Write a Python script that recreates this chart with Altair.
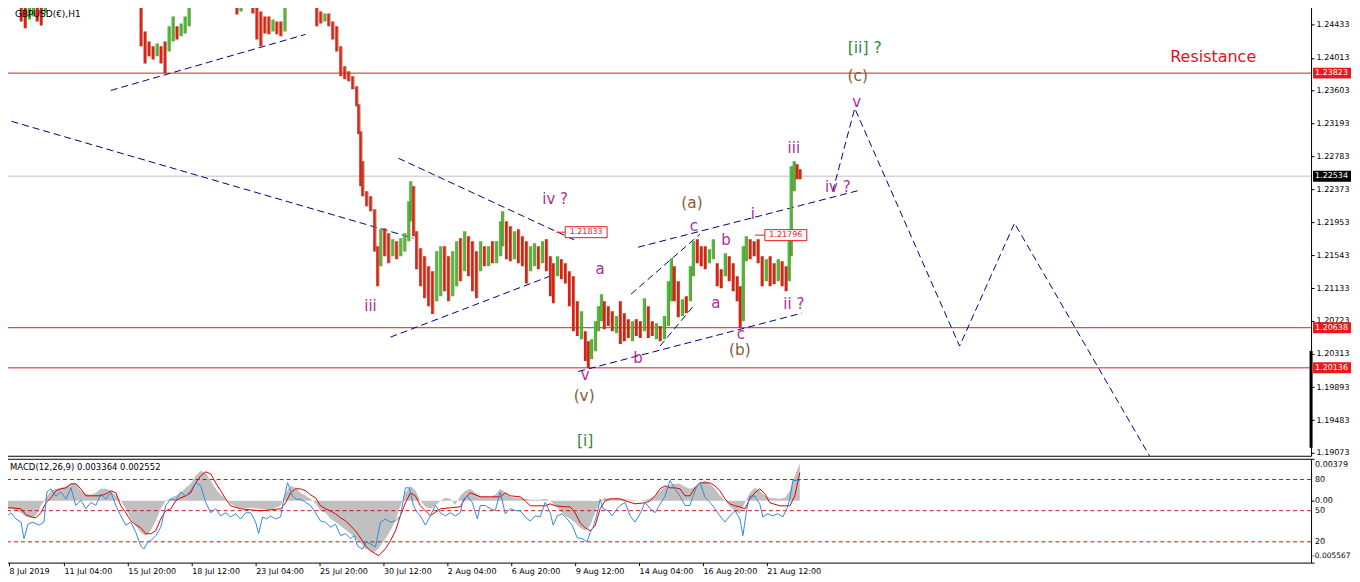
import altair as alt
import pandas as pd

FONT = "DejaVu Sans"

# ---------------- data ----------------
# hourly candles: (bar index, high, low, direction)
candles = [
    (20, 1.2472, 1.2447, "d"), (24, 1.2472, 1.24383, "d"), (28, 1.2472, 1.24495, "u"),
    (32, 1.2472, 1.24533, "u"), (36, 1.2472, 1.2447, "d"), (40, 1.2472, 1.2442, "d"),
    (44, 1.2472, 1.2457, "u"),
    (140, 1.2472, 1.24158, "d"), (144, 1.24345, 1.23945, "d"), (148, 1.2422, 1.24033, "d"),
    (152, 1.24158, 1.23995, "d"), (156, 1.24195, 1.24033, "u"), (160, 1.24158, 1.23945, "d"),
    (164, 1.2422, 1.2382, "d"), (168, 1.24408, 1.24095, "u"), (172, 1.24533, 1.2422, "u"),
    (176, 1.24408, 1.24245, "d"), (180, 1.24445, 1.24283, "u"), (184, 1.24533, 1.2432, "u"),
    (188, 1.2472, 1.24408, "u"),
    (236, 1.2472, 1.24558, "d"), (240, 1.2472, 1.24595, "u"), (252, 1.2472, 1.2457, "d"),
    (256, 1.24658, 1.24245, "d"), (260, 1.24595, 1.24158, "d"), (264, 1.24533, 1.2432, "d"),
    (268, 1.24533, 1.24308, "d"), (272, 1.24495, 1.24345, "u"), (276, 1.2447, 1.24308, "d"),
    (280, 1.2447, 1.24283, "d"), (284, 1.2472, 1.24345, "u"),
    (316, 1.2472, 1.24408, "d"), (320, 1.24595, 1.24445, "d"), (324, 1.2457, 1.2447, "u"),
    (328, 1.2457, 1.24408, "d"), (332, 1.2447, 1.24245, "d"), (336, 1.24408, 1.24095, "d"),
    (340, 1.24158, 1.23783, "d"), (344, 1.23908, 1.23745, "d"), (348, 1.23845, 1.2372, "d"),
    (352, 1.23783, 1.2362, "d"), (356, 1.23658, 1.23408, "d"), (358, 1.23433, 1.23058, "d"),
    (360, 1.23095, 1.22408, "d"), (362, 1.2272, 1.22283, "d"), (366, 1.22345, 1.22158, "d"),
    (370, 1.22283, 1.22095, "d"), (374, 1.2212, 1.2159, "d"), (377, 1.21658, 1.21158, "d"),
    (380, 1.2187, 1.21408, "u"), (384, 1.21883, 1.21533, "d"), (388, 1.2182, 1.21445, "d"),
    (392, 1.21745, 1.21533, "u"), (396, 1.2172, 1.21495, "d"), (400, 1.21758, 1.21533, "u"),
    (404, 1.2182, 1.2159, "u"), (408, 1.2222, 1.2172, "u"), (410, 1.2247, 1.2197, "u"),
    (413, 1.22408, 1.21783, "d"), (416, 1.21845, 1.2137, "d"), (420, 1.21633, 1.21158, "d"),
    (424, 1.21533, 1.21008, "d"), (428, 1.21408, 1.20908, "d"), (432, 1.21345, 1.20808, "d"),
    (436, 1.21595, 1.2097, "u"), (440, 1.21658, 1.21033, "u"), (444, 1.21658, 1.21095, "d"),
    (448, 1.21533, 1.2097, "d"), (452, 1.21595, 1.21033, "u"), (456, 1.2172, 1.21158, "u"),
    (460, 1.21758, 1.2122, "d"), (464, 1.21845, 1.21345, "u"), (468, 1.21783, 1.21283, "d"),
    (472, 1.2172, 1.21095, "d"), (476, 1.21595, 1.21008, "d"), (480, 1.2172, 1.21345, "u"),
    (484, 1.21658, 1.21408, "d"), (488, 1.21658, 1.21408, "u"), (492, 1.2172, 1.21445, "d"),
    (496, 1.2172, 1.21445, "u"), (500, 1.2197, 1.21533, "u"), (502, 1.22095, 1.21658, "u"),
    (506, 1.2197, 1.21495, "d"), (510, 1.21908, 1.2147, "d"), (514, 1.21845, 1.21495, "u"),
    (518, 1.2187, 1.21445, "d"), (522, 1.21783, 1.21408, "d"), (526, 1.2172, 1.2119, "d"),
    (530, 1.21658, 1.21345, "u"), (534, 1.21695, 1.21408, "u"), (538, 1.21658, 1.2137, "d"),
    (542, 1.2172, 1.21445, "u"), (546, 1.21745, 1.21345, "d"), (550, 1.21533, 1.21033, "d"),
    (553, 1.21445, 1.20945, "d"), (557, 1.21533, 1.21283, "u"), (561, 1.21495, 1.21245, "d"),
    (565, 1.21445, 1.2119, "d"), (569, 1.21345, 1.20908, "d"), (573, 1.21283, 1.20595, "d"),
    (577, 1.2097, 1.20533, "d"), (581, 1.20845, 1.20495, "u"), (585, 1.20595, 1.2022, "d"),
    (588, 1.2047, 1.20133, "d"), (591, 1.20495, 1.20245, "u"), (595, 1.2072, 1.20345, "u"),
    (598, 1.20908, 1.20595, "u"), (601, 1.21058, 1.2072, "u"), (604, 1.2097, 1.2062, "d"),
    (608, 1.20908, 1.20658, "d"), (612, 1.20845, 1.20595, "d"), (616, 1.20783, 1.2057, "u"),
    (620, 1.2097, 1.20433, "d"), (624, 1.2082, 1.2047, "d"), (628, 1.20745, 1.20508, "d"),
    (632, 1.2072, 1.2047, "u"), (636, 1.20745, 1.20533, "d"), (640, 1.2072, 1.20508, "d"),
    (644, 1.21008, 1.20595, "u"), (648, 1.20908, 1.20508, "d"), (652, 1.2072, 1.20533, "d"),
    (656, 1.20695, 1.20495, "u"), (660, 1.20658, 1.2047, "d"), (664, 1.20783, 1.20495, "u"),
    (668, 1.2122, 1.20658, "u"), (671, 1.21508, 1.2097, "u"), (674, 1.21408, 1.2097, "d"),
    (678, 1.2122, 1.2077, "d"), (682, 1.20995, 1.20783, "u"), (686, 1.21033, 1.2082, "d"),
    (690, 1.21408, 1.2097, "u"), (693, 1.2172, 1.21283, "u"), (697, 1.21745, 1.21445, "d"),
    (701, 1.21658, 1.21408, "d"), (705, 1.21658, 1.2137, "d"), (709, 1.2162, 1.21445, "u"),
    (713, 1.21745, 1.21495, "u"), (717, 1.21445, 1.21158, "d"), (721, 1.2137, 1.21133, "d"),
    (725, 1.2157, 1.21283, "u"), (729, 1.21533, 1.2122, "d"), (733, 1.21445, 1.21095, "d"),
    (737, 1.21283, 1.2097, "d"), (740, 1.21158, 1.20633, "d"), (743, 1.21658, 1.2072, "u"),
    (746, 1.21783, 1.2147, "u"), (750, 1.21745, 1.21495, "d"), (754, 1.2172, 1.21533, "d"),
    (758, 1.21745, 1.21445, "d"), (762, 1.21533, 1.21158, "d"), (766, 1.21495, 1.2122, "u"),
    (770, 1.21533, 1.21158, "d"), (774, 1.21445, 1.21183, "d"), (778, 1.21495, 1.2122, "u"),
    (782, 1.2147, 1.21158, "d"), (786, 1.21408, 1.21095, "d"), (789, 1.21845, 1.2122, "u"),
    (791, 1.22658, 1.21533, "u"), (794, 1.2272, 1.22345, "u"), (797, 1.22683, 1.22495, "d"),
    (800, 1.2262, 1.22495, "d"),
]

# dashed trend lines: (bar1, price1, bar2, price2)
trend_lines = [
    (110, 1.23607, 305, 1.24308),
    (0, 1.23258, 413, 1.21758),
    (398, 1.22758, 577, 1.2172),
    (390, 1.2052, 555, 1.21308),
    (578, 1.2009, 802, 1.2082),
    (638, 1.21645, 860, 1.22358),
    (631, 1.21058, 700, 1.21808),
    (660, 1.20408, 695, 1.20933),
]

# projected path
forecast_bar = [833, 855, 960, 1015, 1152]
forecast_price = [1.22345, 1.23383, 1.20408, 1.21945, 1.18995]

red_levels = [1.23823, 1.20638, 1.20136]
last_price = 1.22534

price_ticks = [1.24433, 1.24013, 1.23603, 1.23193, 1.22783, 1.22373, 1.21953,
               1.21543, 1.21133, 1.20723, 1.20313, 1.19893, 1.19483, 1.19073]

# right-scale price boxes: (price, kind)
price_boxes = [(1.23823, "r"), (1.22534, "k"), (1.20638, "r"), (1.20136, "r")]

time_tick_bars = [8, 63, 127, 191, 255, 319, 383, 447, 511, 575, 639, 703, 767]
time_tick_labels = ["8 Jul 2019", "11 Jul 04:00", "15 Jul 20:00", "18 Jul 12:00",
                    "23 Jul 04:00", "25 Jul 20:00", "30 Jul 12:00", "2 Aug 04:00",
                    "6 Aug 20:00", "9 Aug 12:00", "14 Aug 04:00", "16 Aug 20:00",
                    "21 Aug 12:00"]

# wave labels: (text, bar, price, group)
wave_labels = [
    ("iii", 370, 1.20908, "p"), ("iv ?", 555, 1.22245, "p"), ("a", 600, 1.2137, "p"),
    ("v", 585, 1.20045, "p"), ("(v)", 584, 1.19783, "b"), ("[i]", 585, 1.1922, "g"),
    ("b", 638, 1.20258, "p"), ("(a)", 692, 1.22195, "b"), ("c", 694, 1.21908, "p"),
    ("b", 726, 1.21733, "p"), ("a", 716, 1.20945, "p"), ("c", 741, 1.20558, "p"),
    ("(b)", 740, 1.20358, "b"), ("i", 753, 1.22058, "p"), ("iii", 794, 1.22883, "p"),
    ("ii ?", 794, 1.20933, "p"), ("iv ?", 838, 1.22395, "p"), ("v", 857, 1.23458, "p"),
    ("(c)", 858, 1.23783, "b"), ("[ii] ?", 865, 1.24133, "g"),
    ("Resistance", 1214, 1.2402, "r"),
]

# in-chart price tags: (leader start bar, tag centre bar, price)
chart_price_tags = [(556, 586, 1.21833), (755, 786, 1.21796)]

# MACD main (histogram) and signal: (bar, value)
macd_hist = [
    (0, -0.00063), (10, -0.00072), (20, -0.00108), (25, -0.00144), (30, -0.00153),
    (35, -0.00135), (40, -0.00045), (45, 0.00027), (50, 0.0009), (55, 0.00108),
    (60, 0.00117), (65, 0.00126), (70, 0.00153), (75, 0.00162), (80, 0.0009),
    (85, 0.00063), (90, 0.00054), (95, 0.00072), (100, 0.00108), (105, 0.00108),
    (110, 0.0009), (115, 0.00045), (120, 0.0), (125, -0.00072), (130, -0.00162),
    (135, -0.00225), (140, -0.00288), (145, -0.00315), (150, -0.0027), (155, -0.0018),
    (160, -0.00072), (165, 0.0), (170, 0.00027), (175, 0.00045), (180, 0.00072),
    (185, 0.00117), (190, 0.00153), (195, 0.00225), (200, 0.0027), (205, 0.00252),
    (210, 0.0018), (215, 0.00108), (220, 0.00054), (225, 0.00018), (230, -0.00027),
    (240, -0.00072), (250, -0.00063), (260, -0.00072), (270, -0.00081), (280, -0.00045),
    (285, 0.00072), (290, 0.00135), (295, 0.00117), (300, 0.00072), (305, 0.00045),
    (310, 0.00018), (315, -0.00027), (320, -0.0009), (325, -0.00108), (330, -0.00162),
    (340, -0.00225), (350, -0.00297), (360, -0.00378), (365, -0.00432), (370, -0.0045),
    (373, -0.00468), (378, -0.00432), (385, -0.00342), (390, -0.0027), (395, -0.0018),
    (400, -0.00045), (405, 0.00072), (410, 0.00135), (415, 0.0009), (420, 0.0),
    (425, -0.00054), (430, -0.00072), (435, -0.00045), (440, 0.0), (445, 0.00027),
    (450, 0.00018), (455, -0.00036), (460, 0.00045), (465, 0.0009), (470, 0.00108),
    (475, 0.00072), (480, 0.00045), (485, 0.00036), (490, 0.00036), (495, 0.00054),
    (500, 0.00108), (505, 0.00072), (510, 0.00036), (515, 0.00027), (520, 0.00027),
    (525, 0.00018), (530, 0.00009), (540, 0.00009), (545, 0.00018), (550, 0.0),
    (555, -0.00045), (560, -0.0009), (565, -0.00135), (570, -0.00162), (575, -0.00198),
    (580, -0.00243), (585, -0.0027), (590, -0.00225), (595, -0.00108), (600, 0.0),
    (605, 0.00027), (610, 0.00018), (620, 0.00018), (630, 0.00009), (640, 0.0),
    (650, 0.00018), (655, 0.00045), (660, 0.0009), (665, 0.00126), (670, 0.00144),
    (675, 0.00153), (680, 0.00153), (685, 0.00126), (690, 0.00108), (695, 0.00126),
    (700, 0.00162), (705, 0.0018), (710, 0.00153), (715, 0.00108), (720, 0.00045),
    (725, 0.0), (730, -0.00054), (735, -0.0009), (740, -0.00117), (745, -0.00018),
    (750, 0.00072), (755, 0.00117), (760, 0.0009), (765, 0.00045), (770, 0.00027),
    (780, 0.00018), (785, 0.00027), (790, 0.0009), (793, 0.0018), (797, 0.0027),
    (800, 0.003364),
]
macd_signal = [
    (0, -0.00063), (10, -0.00063), (20, -0.00072), (25, -0.00126), (30, -0.00144),
    (35, -0.00153), (40, -0.00108), (45, -0.00018), (50, 0.00027), (55, 0.0009),
    (60, 0.00108), (65, 0.00117), (70, 0.00153), (75, 0.00153), (80, 0.00108),
    (85, 0.00045), (90, 0.00045), (100, 0.00045), (105, 0.00063), (110, 0.0009),
    (115, 0.00072), (120, -0.00045), (125, -0.00108), (130, -0.0018), (135, -0.00216),
    (140, -0.00243), (145, -0.00297), (150, -0.00297), (155, -0.0027), (160, -0.00162),
    (165, -0.0009), (170, -0.00072), (175, 0.0), (180, 0.00027), (185, 0.00045),
    (190, 0.00072), (195, 0.00162), (200, 0.00225), (205, 0.00261), (210, 0.00243),
    (215, 0.00162), (220, 0.0009), (225, 0.00018), (230, -0.00045), (240, -0.00072),
    (250, -0.00081), (260, -0.0009), (270, -0.00081), (280, -0.00072), (285, -0.00018),
    (290, 0.00072), (295, 0.00108), (300, 0.00108), (305, 0.0009), (310, 0.00054),
    (315, 0.00027), (320, -0.00045), (325, -0.00072), (330, -0.0009), (335, -0.00117),
    (340, -0.00153), (345, -0.0018), (350, -0.00225), (355, -0.0027), (360, -0.00333),
    (365, -0.00405), (370, -0.0045), (375, -0.00477), (378, -0.00495), (385, -0.00432),
    (390, -0.0036), (395, -0.0027), (400, -0.00135), (405, -0.00018), (410, 0.00072),
    (415, 0.00045), (420, -0.00045), (425, -0.0009), (430, -0.00135), (440, -0.00072),
    (450, -0.00063), (460, -0.00054), (465, 0.00027), (470, 0.00072), (480, 0.00036),
    (490, 0.00036), (500, 0.00036), (505, 0.00072), (510, 0.00045), (520, 0.00036),
    (525, 0.0), (530, -0.00045), (540, -0.00045), (545, -0.00045), (550, -0.00027),
    (555, -0.00045), (565, -0.00054), (570, -0.00054), (575, -0.00108), (580, -0.00198),
    (585, -0.00243), (590, -0.0027), (595, -0.00225), (600, -0.00072), (605, 0.0),
    (610, 0.00018), (620, 0.00018), (625, 0.0), (635, -0.00027), (645, -0.00018),
    (650, 0.0), (655, 0.00045), (660, 0.00108), (665, 0.00135), (670, 0.00117),
    (675, 0.00117), (680, 0.00108), (685, 0.00045), (690, 0.00045), (695, 0.00117),
    (700, 0.00162), (705, 0.00162), (710, 0.00162), (715, 0.00135), (720, 0.0009),
    (725, 0.00018), (730, -0.00027), (735, -0.00045), (740, -0.00054), (745, -0.00072),
    (750, 0.00018), (755, 0.00072), (760, 0.00108), (765, 0.00063), (770, -0.00018),
    (780, -0.00045), (785, -0.00045), (790, -0.00045), (795, 0.00045), (800, 0.002552),
]
# oscillator (0-100) drawn in the same sub-window: (bar, value)
osc_line = [
    (0, 47), (5, 44), (10, 48), (15, 42), (20, 39), (23, 23), (27, 37), (32, 39), (38, 36),
    (43, 39), (46, 68), (50, 71), (55, 64), (60, 68), (65, 61), (70, 72), (75, 55), (80, 60),
    (85, 52), (90, 58), (95, 55), (100, 66), (105, 61), (110, 68), (115, 55), (120, 45),
    (125, 36), (130, 39), (135, 29), (140, 16), (143, 13), (147, 20), (150, 21), (155, 26),
    (160, 34), (165, 55), (170, 61), (175, 60), (180, 68), (185, 64), (190, 69), (195, 77),
    (200, 74), (205, 58), (210, 48), (215, 52), (220, 45), (225, 48), (230, 44), (235, 47),
    (240, 42), (245, 48), (250, 48), (255, 39), (258, 28), (262, 44), (266, 42), (270, 45),
    (275, 42), (280, 44), (283, 60), (287, 77), (292, 64), (296, 61), (300, 61), (305, 58),
    (310, 55), (315, 48), (320, 40), (325, 39), (330, 34), (335, 37), (340, 26), (345, 28),
    (350, 23), (354, 26), (357, 16), (362, 13), (366, 20), (370, 18), (375, 15), (380, 39),
    (385, 42), (390, 39), (395, 40), (400, 45), (405, 72), (409, 72), (413, 55), (417, 48),
    (420, 45), (425, 36), (430, 45), (435, 55), (440, 48), (445, 45), (450, 48), (455, 45),
    (460, 48), (463, 61), (467, 64), (472, 58), (477, 42), (480, 55), (485, 55), (490, 52),
    (495, 50), (500, 68), (505, 47), (510, 52), (515, 50), (520, 50), (525, 44), (530, 40),
    (535, 45), (540, 44), (545, 58), (550, 48), (553, 36), (557, 45), (562, 47), (567, 42),
    (572, 36), (577, 24), (582, 23), (587, 20), (590, 29), (593, 34), (597, 47), (600, 61),
    (603, 52), (608, 50), (612, 45), (617, 52), (620, 55), (625, 58), (630, 45), (635, 39),
    (640, 47), (645, 58), (650, 52), (655, 48), (660, 56), (665, 64), (670, 79), (675, 71),
    (680, 64), (685, 55), (690, 55), (693, 64), (697, 74), (700, 77), (705, 63), (710, 58),
    (715, 52), (720, 45), (725, 39), (730, 45), (735, 50), (740, 42), (743, 26), (747, 52),
    (750, 64), (755, 64), (760, 56), (763, 44), (768, 47), (773, 45), (778, 47), (783, 44),
    (787, 52), (790, 61), (793, 79), (797, 79), (800, 79),
]
osc_levels = [80, 50, 20]
macd_top, macd_bottom = 0.00379, -0.005567

# ---------------- styling ----------------
W, HP, HM = 1312, 455, 104
RED_LINE = "#D42020"
CANDLE_GREEN = "#3CC43C"
CANDLE_RED = "#E61A1A"
CANDLE_BROWN = "#8E6420"
NAVY = "#000080"
PURPLE = "#AE2D96"
BROWN_T = "#8A5A38"
GREEN_T = "#2E8B3A"
RES_RED = "#E3111B"
BOX_RED = "#E8191F"

xs = alt.Scale(domain=[0, W], nice=False, zero=False)
ps = alt.Scale(domain=[1.19036, 1.24720], nice=False, zero=False)
ms = alt.Scale(domain=[macd_bottom, macd_top], nice=False, zero=False)
os_ = alt.Scale(domain=[0, 100], nice=False, zero=False)


def X(f):
    return alt.X(f, type="quantitative", scale=xs, axis=None, title=None)


def P(f):
    return alt.Y(f, type="quantitative", scale=ps, title=None)


# ---------------- price panel ----------------
price_axis = alt.Axis(orient="right", values=price_ticks, tickCount=len(price_ticks) + 4,
                      format=".5f", labelFont=FONT,
                      labelFontSize=8, labelColor="#000000", tickColor="#000000",
                      tickSize=3, domain=False, grid=False, labelPadding=2,
                      labelOverlap=False, labelFlush=False, labelBound=False,
                      title=None, zindex=0)

levels = alt.Chart(pd.DataFrame({"price": red_levels})).mark_rule(
    color=RED_LINE, strokeWidth=1).encode(
    y=alt.Y("price:Q", scale=ps, axis=price_axis, title=None))

last_line = alt.Chart(pd.DataFrame({"price": [last_price]})).mark_rule(
    color="#C0C0C0", strokeWidth=1).encode(y=P("price"))

tl_df = pd.DataFrame(trend_lines, columns=["b1", "p1", "b2", "p2"])
trend = alt.Chart(tl_df).mark_rule(color=NAVY, strokeDash=[7, 4], strokeWidth=1,
                                   clip=True).encode(
    x=X("b1"), x2="b2", y=P("p1"), y2="p2")

fc_df = pd.DataFrame({"bar": forecast_bar, "price": forecast_price,
                      "i": list(range(len(forecast_bar)))})
forecast = alt.Chart(fc_df).mark_line(color=NAVY, strokeDash=[7, 4], strokeWidth=1,
                                      clip=True).encode(
    x=X("bar"), y=P("price"), order="i:Q")

cd = pd.DataFrame(candles, columns=["bar", "hi", "lo", "dir"])
cndl = alt.Chart(cd).mark_rule(strokeWidth=2.5, clip=True).encode(
    x=X("bar"), y=P("hi"), y2="lo",
    color=alt.Color("dir:N", scale=alt.Scale(domain=["u", "d"],
                                             range=[CANDLE_GREEN, CANDLE_RED]),
                    legend=None))
cndl_b = alt.Chart(cd).mark_rule(strokeWidth=1, color=CANDLE_BROWN, xOffset=1.5,
                                 opacity=0.85, clip=True).encode(
    x=X("bar"), y=P("hi"), y2="lo")

tag_df = pd.DataFrame(chart_price_tags, columns=["lead", "centre", "price"])
tag_df["lbl"] = tag_df["price"].map(lambda v: f"{v:.5f}")
tag_lead = alt.Chart(tag_df).mark_rule(color=BOX_RED, strokeWidth=1).encode(
    x=X("lead"), x2="centre", y=P("price"))
tag_box = alt.Chart(tag_df).mark_tick(orient="horizontal", size=42, thickness=11,
                                      fill="white", stroke=BOX_RED, strokeWidth=1,
                                      opacity=1, filled=True).encode(
    x=X("centre"), y=P("price"))
tag_txt = alt.Chart(tag_df).mark_text(font=FONT, fontSize=8, color=BOX_RED,
                                      baseline="middle").encode(
    x=X("centre"), y=P("price"), text="lbl:N")

wl = pd.DataFrame(wave_labels, columns=["text", "bar", "price", "grp"])
waves = alt.Chart(wl).mark_text(font=FONT, baseline="middle", align="center").encode(
    x=X("bar"), y=P("price"), text="text:N",
    color=alt.Color("grp:N", scale=alt.Scale(domain=["p", "b", "g", "r"],
                                             range=[PURPLE, BROWN_T, GREEN_T, RES_RED]),
                    legend=None),
    size=alt.Size("grp:N", scale=alt.Scale(domain=["p", "b", "g", "r"],
                                           range=[15, 16, 17, 16]), legend=None))

title_df = pd.DataFrame({"t": ["GBPUSD(€),H1"]})
title = alt.Chart(title_df).mark_text(font=FONT, fontSize=9, align="left",
                                      baseline="middle", color="#000000").encode(
    x=alt.value(14), y=alt.value(13), text="t:N")

pb = pd.DataFrame(price_boxes, columns=["price", "kind"])
pb["lbl"] = pb["price"].map(lambda v: f"{v:.5f}")
pbox = alt.Chart(pb).mark_tick(orient="horizontal", size=38, thickness=11,
                               opacity=1).encode(
    x=alt.value(1333), y=P("price"),
    color=alt.Color("kind:N", scale=alt.Scale(domain=["r", "k"],
                                              range=[BOX_RED, "#000000"]), legend=None))
pbox_txt = alt.Chart(pb).mark_text(font=FONT, fontSize=8, align="left",
                                   baseline="middle", color="#FFFFFF").encode(
    x=alt.value(1316), y=P("price"), text="lbl:N")

scroll_bar = alt.Chart(title_df).mark_rule(strokeWidth=3, color="#000000").encode(
    x=alt.value(W), y=alt.value(350), y2=alt.value(447))

price_panel = alt.layer(
    levels, last_line, trend, cndl, cndl_b, forecast, tag_lead, tag_box, tag_txt,
    waves, title, pbox, pbox_txt, scroll_bar
).resolve_scale(color="independent", size="independent").properties(width=W, height=HP)

# ---------------- MACD panel ----------------
label_expr = " : ".join(f"datum.value == {b} ? '{l}'"
                        for b, l in zip(time_tick_bars, time_tick_labels)) + " : ''"
x_axis = alt.Axis(values=time_tick_bars, tickCount=len(time_tick_bars) + 4,
                  labelExpr=label_expr, labelAlign="left",
                  labelBaseline="top", labelFont=FONT, labelFontSize=8,
                  labelColor="#000000", tickColor="#000000", tickSize=3,
                  labelPadding=2, domain=False, grid=False, labelOverlap=False,
                  labelFlush=False, labelBound=False, title=None, zindex=0)
m_axis = alt.Axis(orient="right", values=[macd_top, 0.0, macd_bottom], labels=False,
                  tickSize=3, tickColor="#000000", domain=False, grid=False,
                  title=None, zindex=0)

hist_df = pd.DataFrame(macd_hist, columns=["bar", "v"])
sig_df = pd.DataFrame(macd_signal, columns=["bar", "v"])
osc_df = pd.DataFrame(osc_line, columns=["bar", "v"])

hist = alt.Chart(hist_df).mark_area(color="#C0C0C0", opacity=1, clip=True).encode(
    x=alt.X("bar:Q", scale=xs, axis=x_axis, title=None),
    y=alt.Y("v:Q", scale=ms, axis=m_axis, title=None),
    y2=alt.datum(0))
signal = alt.Chart(sig_df).mark_line(color="#E00000", strokeWidth=1, clip=True).encode(
    x=alt.X("bar:Q", scale=xs, title=None),
    y=alt.Y("v:Q", scale=ms, title=None))


def macd_label(value, text, dy, x=1316, size=8):
    return alt.Chart(pd.DataFrame({"v": [value], "t": [text]})).mark_text(
        font=FONT, fontSize=size, align="left", baseline="middle", dy=dy,
        color="#000000").encode(
        x=alt.value(x), y=alt.Y("v:Q", scale=ms, title=None), text="t:N")


header = alt.Chart(pd.DataFrame({"t": [
    f"MACD(12,26,9) {macd_hist[-1][1]:.6f} {macd_signal[-1][1]:.6f}"]})).mark_text(
    font=FONT, fontSize=8.5, align="left", baseline="middle", color="#000000").encode(
    x=alt.value(9), y=alt.value(8), text="t:N")

macd_group = alt.layer(
    hist, signal,
    macd_label(macd_top, f"{macd_top:.5f}", 6),
    macd_label(0.0, "0.00", 0),
    macd_label(macd_bottom, f"{macd_bottom:.6f}", -7, x=1313, size=7.5),
    header,
)

lv_df = pd.DataFrame({"v": osc_levels, "t": [str(v) for v in osc_levels]})
lv_rules = alt.Chart(lv_df).mark_rule(color="#C01818", strokeDash=[4, 3],
                                      strokeWidth=1).encode(
    y=alt.Y("v:Q", scale=os_, axis=None, title=None))
osc = alt.Chart(osc_df).mark_line(color="#2F8BE0", strokeWidth=1, clip=True).encode(
    x=alt.X("bar:Q", scale=xs, title=None),
    y=alt.Y("v:Q", scale=os_, axis=None, title=None))
lv_txt = alt.Chart(lv_df).mark_text(font=FONT, fontSize=8, align="left",
                                    baseline="middle", color="#000000").encode(
    x=alt.value(1316), y=alt.Y("v:Q", scale=os_, axis=None, title=None), text="t:N")

level_group = alt.layer(lv_rules, osc, lv_txt)

macd_panel = alt.layer(macd_group, level_group).resolve_scale(
    y="independent").properties(width=W, height=HM)

chart = alt.vconcat(price_panel, macd_panel, spacing=3, bounds="flush").properties(
    padding={"left": -8, "top": -8, "right": 0, "bottom": 0},
    background="white",
).configure_view(stroke="#000000", strokeWidth=1).configure_axis(labelOverlap=False)

chart.save("out.html", embed_options={"renderer": "svg", "actions": False})
